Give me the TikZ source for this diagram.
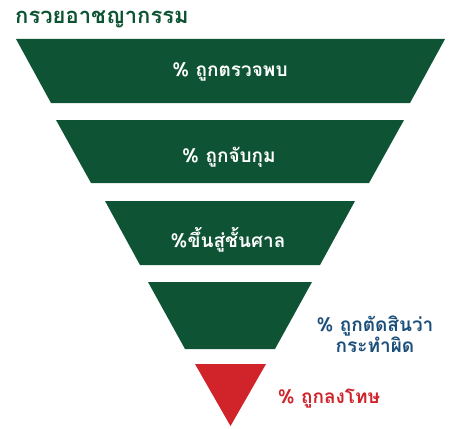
\documentclass[tikz,border=0pt]{standalone}
\usepackage{fontspec}
\newfontfamily\thaifont[Script=Thai]{Loma}
\definecolor{fgreen}{HTML}{0E5434}
\definecolor{fred}{HTML}{D1232A}
\definecolor{fblue}{HTML}{1B4F7A}
\begin{document}
\begin{tikzpicture}[x=1pt,y=-1pt,
  level/.style={fill=fgreen,draw=none},
  inlabel/.style={text=white,font=\thaifont\bfseries\fontsize{19}{21}\selectfont,align=center},
  outlabel/.style={font=\thaifont\bfseries\fontsize{19}{21}\selectfont,align=center}]
\useasboundingbox (0,0) rectangle (449,428);
\node[anchor=west,text=fgreen,font=\thaifont\bfseries\fontsize{22}{26}\selectfont,inner sep=0pt] (title) at (15,19) {กรวยอาชญากรรม};
\fill[level] (16,39) -- (445,39) -- (410,103) -- (51,103) -- cycle;
\fill[level] (56,120) -- (404,120) -- (369,183) -- (91,183) -- cycle;
\fill[level] (105,201) -- (355,201) -- (320,265) -- (140,265) -- cycle;
\fill[level] (148,282) -- (312,282) -- (275,349) -- (185,349) -- cycle;
\fill[fred] (195,364) -- (266,364) -- (230.5,426) -- cycle;
\node[inlabel] (l1) at (230,72) {\% ถูกตรวจพบ};
\node[inlabel] (l2) at (229,157) {\% ถูกจับกุม};
\node[inlabel] (l3) at (228,240) {\%ขึ้นสู่ชั้นศาล};
\node[outlabel,text=fblue] (l4) at (375,334) {\% ถูกตัดสินว่า\\กระทำผิด};
\node[outlabel,text=fred] (l5) at (329,399) {\% ถูกลงโทษ};
\end{tikzpicture}
\end{document}
